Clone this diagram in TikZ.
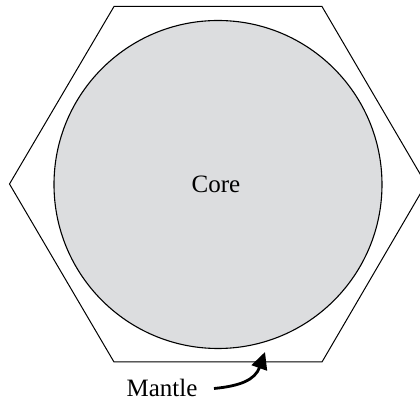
\documentclass[tikz,border=0pt]{standalone}
\usepackage{fontspec}
\setmainfont{Liberation Serif}
\usetikzlibrary{arrows.meta}
\definecolor{coregray}{RGB}{220,221,223}
\tikzset{
  hexline/.style={draw=black, line width=0.5pt, line join=miter},
  coreshape/.style={circle, draw=black, line width=0.55pt, fill=coregray, minimum size=164pt, inner sep=0pt},
  lbl/.style={font=\fontsize{12.5}{14}\selectfont, inner sep=0pt},
  mantlearrow/.style={line width=1.4pt, -{Triangle[length=8.5pt, width=8pt]}}
}
\begin{document}
\begin{tikzpicture}[x=0.5pt, y=-0.5pt]
\useasboundingbox (0,0) rectangle (420,401);
\draw[hexline] (114,6.5) -- (322,6.5) -- (426,184) -- (322,362) -- (114,362) -- (9.5,184) -- cycle;
\node[coreshape] (core) at (218,184.5) {};
\node[lbl] (coretext) at (216,184) {Core};
\node[lbl] (mantle) at (162,388) {Mantle};
\coordinate (tail) at (214,388.5);
\coordinate (tip) at (265,352);
\draw[mantlearrow] (tail) .. controls (240,386) and (255,380) .. (tip);
\end{tikzpicture}
\end{document}
